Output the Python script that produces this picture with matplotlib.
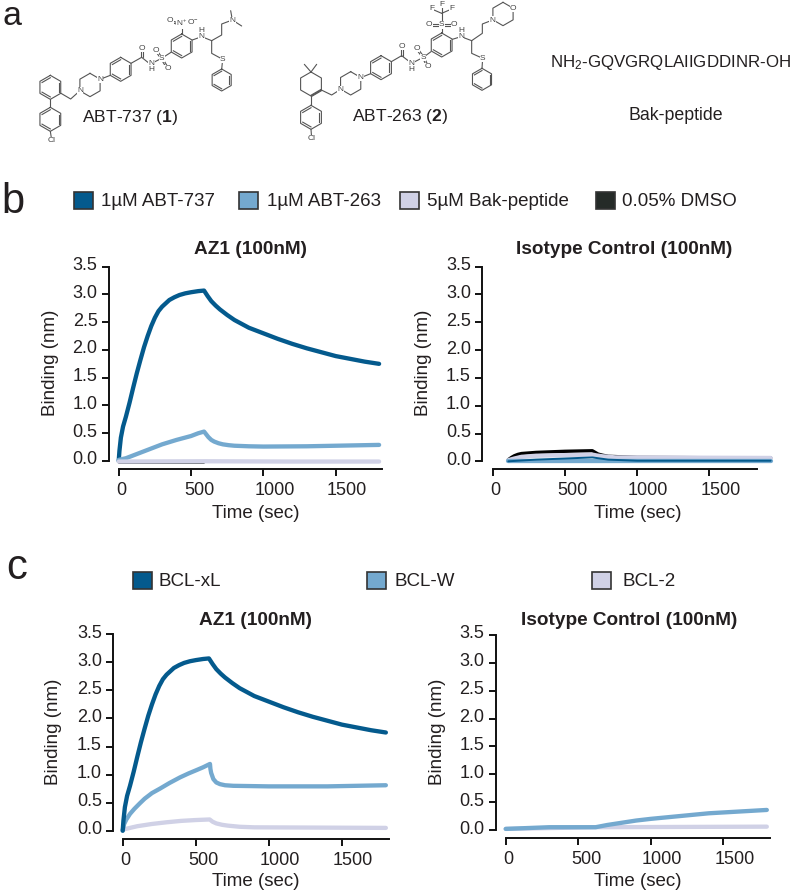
import numpy as np
import matplotlib
matplotlib.use("Agg")
import matplotlib.pyplot as plt
from matplotlib.patches import Patch
from matplotlib.transforms import ScaledTranslation

plt.rcParams['font.family'] = ['Liberation Sans', 'DejaVu Sans']
plt.rcParams['mathtext.fontset'] = 'custom'
plt.rcParams['mathtext.rm'] = 'Liberation Sans'
plt.rcParams['mathtext.bf'] = 'Liberation Sans:bold'
plt.rcParams['mathtext.default'] = 'regular'

DARK, MID, LAV, BLACK = '#045a8d', '#74a9cf', '#d0d1e6', '#252b28'
TXT = '#231f20'
W, H = 800, 893

# ---- data ----
dark_t = [0, 5, 15, 30, 50, 75, 100, 125, 150, 175, 200, 225, 250, 275, 300, 325, 350, 385, 420, 460, 500, 550, 590,
          600, 615, 640, 670, 700, 750, 800, 850, 900, 950, 1000, 1100, 1200, 1300, 1400, 1500, 1600, 1700, 1800]
dark_y = [0, .18, .42, .62, .8, 1.05, 1.32, 1.58, 1.82, 2.05, 2.25, 2.43, 2.58, 2.7, 2.78, 2.84, 2.9, 2.95, 2.99,
          3.02, 3.04, 3.06, 3.07, 3.03, 2.97, 2.88, 2.8, 2.73, 2.63, 2.54, 2.47, 2.4, 2.35, 2.3, 2.2, 2.11, 2.03,
          1.96, 1.89, 1.84, 1.79, 1.75]
abt263_t = [0, 50, 100, 200, 300, 400, 500, 550, 590, 605, 620, 640, 660, 690, 720, 760, 800, 900, 1000, 1300, 1800]
abt263_y = [.02, .05, .1, .2, .3, .38, .45, .5, .53, .48, .43, .38, .35, .32, .3, .285, .275, .265, .26, .265, .29]
bak_t = [0, 600, 1200, 1800]
bak_y = [-.01, -.005, -.01, -.01]
dmso_t = [0, 300, 590]
dmso_y = [-.03, -.03, -.03]

iso_dmso_t = [108, 130, 150, 175, 200, 300, 500, 690, 710, 730, 760, 800, 1000, 1925]
iso_dmso_y = [.03, .07, .1, .125, .14, .16, .18, .19, .16, .13, .11, .09, .07, .06]
iso_bak_t = [108, 150, 200, 300, 500, 690, 720, 760, 850, 1925]
iso_bak_y = [.02, .05, .08, .1, .11, .12, .105, .09, .07, .06]
iso_263_t = [108, 500, 1000, 1925]
iso_263_y = [0, .0, .0, .0]
iso_737_t = [108, 300, 500, 690, 800, 1000, 1925]
iso_737_y = [0, .03, .05, .07, .03, .01, .01]

bclw_t = [0, 10, 25, 50, 80, 118, 150, 200, 255, 320, 392, 450, 505, 550, 597, 600, 605, 620, 640, 665, 700, 756,
          1000, 1400, 1800]
bclw_y = [0, .12, .2, .3, .39, .49, .57, .67, .75, .85, .95, 1.02, 1.08, 1.13, 1.19, 1.1, 1.03, .92, .86, .83, .81,
          .8, .79, .79, .81]
bcl2_t = [0, 50, 100, 200, 300, 400, 500, 595, 615, 640, 680, 720, 800, 900, 1800]
bcl2_y = [.02, .05, .08, .12, .15, .175, .19, .2, .16, .13, .105, .09, .07, .06, .05]
isow_t = [0, 300, 620, 700, 800, 900, 1000, 1100, 1200, 1300, 1400, 1500, 1600, 1700, 1800]
isow_y = [.02, .05, .05, .09, .13, .17, .2, .225, .25, .275, .3, .315, .33, .345, .36]
iso2_t = [0, 620, 1800]
iso2_y = [.02, .05, .06]

xticks = [0, 500, 1000, 1500]
xtick_shift = [3, 8, 11, 11]
yticks = [0, .5, 1, 1.5, 2, 2.5, 3, 3.5]
ytick_labels = ['0.0', '0.5', '1.0', '1.5', '2.0', '2.5', '3.0', '3.5']

fig = plt.figure(figsize=(W / 100, H / 100), dpi=100)


def panel(x0, x1500, xend, ytop, y0, spine_x, axis_y, title, title_xy, xlabel_xy, ylabel_xy):
    ax = fig.add_axes([x0 / W, 1 - y0 / H, (xend - x0) / W, (y0 - ytop) / H])
    ax.set_xlim(0, 1500 * (xend - x0) / (x1500 - x0))
    ax.set_ylim(0, 3.5)
    ax.patch.set_alpha(0)
    for s in ('top', 'right'):
        ax.spines[s].set_visible(False)
    ax.spines['left'].set_position(('outward', (x0 - spine_x) * .72))
    ax.spines['bottom'].set_position(('outward', (axis_y - y0) * .72))
    for s in ('left', 'bottom'):
        ax.spines[s].set_linewidth(1.4)
        ax.spines[s].set_color('#111111')
    ax.set_xticks(xticks)
    ax.set_yticks(yticks)
    ax.set_yticklabels(ytick_labels)
    ax.tick_params(axis='both', direction='out', length=4.7, width=1.4, color='#111111',
                   labelsize=13, labelcolor=TXT)
    ax.tick_params(axis='x', pad=4.5)
    ax.tick_params(axis='y', pad=3.5)
    for lab, dx in zip(ax.get_xticklabels(), xtick_shift):
        lab.set_transform(lab.get_transform() + ScaledTranslation(dx / 100, 0, fig.dpi_scale_trans))
    for lab in ax.get_yticklabels():
        lab.set_transform(lab.get_transform() + ScaledTranslation(0, 3 / 100, fig.dpi_scale_trans))
    fx = lambda p: (p - x0) / (xend - x0)
    fy = lambda p: (y0 - p) / (y0 - ytop)
    ax.set_title(title, fontsize=13.7, fontweight='bold', color=TXT, x=fx(title_xy[0]), y=fy(title_xy[1]), va='center', pad=0)
    ax.set_xlabel('Time (sec)', fontsize=13.5, color=TXT, va='center', ha='center')
    ax.xaxis.set_label_coords(fx(xlabel_xy[0]), fy(xlabel_xy[1]))
    ax.set_ylabel('Binding (nm)', fontsize=13.5, color=TXT, va='center', ha='center')
    ax.yaxis.set_label_coords(fx(ylabel_xy[0]), fy(ylabel_xy[1]))
    return ax


def curve(ax, t, y, color, lw=3.1, z=3):
    ax.plot(t, y, color=color, lw=lw, clip_on=False, solid_capstyle='round', solid_joinstyle='round', zorder=z)


# panel b
a1 = panel(118.7, 335.7, 382, 266.7, 461, 109, 469.3, 'AZ1 (100nM)', (250, 250), (256, 513), (50.7, 363))
curve(a1, dark_t, dark_y, DARK)
curve(a1, abt263_t, abt263_y, MID)
curve(a1, dmso_t, dmso_y, BLACK, lw=1.2, z=3.5)
curve(a1, bak_t, bak_y, LAV, z=4)

a2 = panel(492.7, 709.3, 756.7, 266.7, 461.3, 482.3, 469.3, 'Isotype Control (100nM)', (624, 250), (637.7, 513), (424, 363))
curve(a2, iso_dmso_t, iso_dmso_y, 'black', lw=2.4)
curve(a2, iso_bak_t, iso_bak_y, LAV, z=4)
curve(a2, iso_263_t, iso_263_y, MID, z=5)
curve(a2, iso_737_t, iso_737_y, DARK, lw=1.4, z=6)

# panel c
a3 = panel(122.7, 342, 389.3, 634.3, 830.7, 113.3, 839.3, 'AZ1 (100nM)', (255, 620.7), (256, 882), (54, 732))
curve(a3, dark_t, dark_y, DARK, z=5)
curve(a3, bclw_t, bclw_y, MID, z=4)
curve(a3, bcl2_t, bcl2_y, LAV, z=3)

a4 = panel(505.7, 723.3, 770, 635, 830, 495.7, 838.3, 'Isotype Control (100nM)', (628.7, 620.7), (637.7, 881.7), (437.3, 732))
curve(a4, iso2_t, iso2_y, LAV, z=3)
curve(a4, isow_t, isow_y, MID, z=4)


# legends
def swatch(x, yc, color, label, text_x):
    fig.legend(handles=[Patch(facecolor=color, edgecolor='#333333', linewidth=1.2)], labels=[label],
               loc='center left', bbox_to_anchor=(x / W, 1 - yc / H), frameon=False, borderpad=0, borderaxespad=0,
               handlelength=19 * .72 / 13.5, handleheight=19 * .72 / 13.5, handletextpad=(text_x - x - 19) * .72 / 13.5,
               fontsize=13.5, labelcolor=TXT)


swatch(74, 201, DARK, '1µM ABT-737', 101)
swatch(239, 201, MID, '1µM ABT-263', 267)
swatch(400, 201, LAV, '5µM Bak-peptide', 427)
swatch(596, 201, BLACK, '0.05% DMSO', 622)
swatch(133, 581, DARK, 'BCL-xL', 159)
swatch(367, 581, MID, 'BCL-W', 394)
swatch(592, 581, LAV, 'BCL-2', 622)

# panel a: drawn structures (coordinates in 3x crop units)
c = fig.add_axes([0, 0, 1, 1], zorder=-1)
c.set_xlim(0, W * 3)
c.set_ylim(H * 3, 0)
c.axis('off')
BOND = '#555555'


def seg(*pts):
    xs, ys = zip(*pts)
    c.plot(xs, ys, color=BOND, lw=.8, solid_capstyle='round')


def ring(cx, cy, r=36, aromatic=True, first=0):
    ang = np.radians(90 + 60 * np.arange(7))
    xs, ys = cx + r * np.cos(ang), cy - r * np.sin(ang)
    c.plot(xs, ys, color=BOND, lw=.8)
    if aromatic:
        for i in range(first, 6, 2):
            a = np.array([xs[i], ys[i]])
            b = np.array([xs[i + 1], ys[i + 1]])
            m = np.array([cx, cy])
            a2_, b2_ = a + (m - a) * .2, b + (m - b) * .2
            c.plot([a2_[0], b2_[0]], [a2_[1], b2_[1]], color=BOND, lw=.8)


def atom(x, y, s, fs=6):
    c.text(x, y, s, fontsize=fs, color='#444444', ha='center', va='center', linespacing=.9,
           bbox=dict(facecolor='white', edgecolor='none', pad=.2), zorder=5)


def dbl(p, q, off=5):
    p, q = np.array(p, float), np.array(q, float)
    n = np.array([-(q - p)[1], (q - p)[0]])
    n = n / np.linalg.norm(n) * off / 2
    seg(p + n, q + n)
    seg(p - n, q - n)


# ABT-737
ring(151, 262); ring(151, 358)
seg((151, 298), (151, 322)); seg((151, 394), (155, 420)); atom(155, 421, 'Cl')
seg((183, 280), (212, 297), (240, 272))
ring(270, 255, 35, aromatic=False); atom(240, 272, 'N'); atom(300, 238, 'N')
seg((300, 238), (331, 226)); ring(362, 208)
seg((393, 190), (425, 172)); dbl((425, 172), (425, 145)); atom(425, 145, 'O')
seg((425, 172), (455, 196)); atom(455, 200, 'N\nH')
seg((455, 190), (485, 175)); dbl((485, 175), (467, 150)); dbl((485, 175), (503, 205))
atom(467, 150, 'O'); atom(503, 205, 'O'); atom(485, 175, 'S')
seg((485, 175), (513, 157)); ring(545, 138)
seg((545, 102), (545, 75)); dbl((545, 75), (510, 63)); seg((545, 75), (580, 63))
atom(510, 63, 'O'); atom(580, 63, 'O$^{-}$'); atom(545, 70, 'N$^{+}$')
seg((577, 120), (605, 110), (635, 122)); atom(605, 101, 'H\nN')
seg((635, 122), (665, 105), (665, 72), (697, 60)); seg((697, 60), (692, 32)); seg((697, 60), (725, 78))
atom(697, 62, 'N')
seg((635, 122), (635, 160), (668, 178), (665, 208)); atom(668, 178, 'S')
ring(665, 240, 33)

# ABT-263
ring(933, 352)
seg((933, 316), (933, 288)); seg((933, 388), (935, 415)); atom(935, 416, 'Cl')
ring(933, 252, 36, aromatic=False)
dbl((933, 288), (964, 270), 4)
seg((933, 216), (913, 193)); seg((933, 216), (950, 193))
seg((964, 270), (995, 285), (1022, 268))
ring(1052, 250, 35, aromatic=False); atom(1022, 268, 'N'); atom(1082, 233, 'N')
seg((1082, 233), (1112, 221)); ring(1143, 203)
seg((1174, 185), (1205, 167)); dbl((1205, 167), (1205, 140)); atom(1205, 140, 'O')
seg((1205, 167), (1235, 190)); atom(1235, 199, 'N\nH')
seg((1235, 190), (1270, 172)); dbl((1270, 172), (1250, 145)); dbl((1270, 172), (1283, 200))
atom(1250, 145, 'O'); atom(1283, 200, 'O'); atom(1270, 172, 'S')
seg((1270, 172), (1293, 155)); ring(1325, 135)
seg((1325, 98), (1325, 40)); dbl((1325, 75), (1288, 75)); dbl((1325, 75), (1362, 75))
atom(1288, 75, 'O'); atom(1362, 75, 'O'); atom(1325, 75, 'S')
seg((1325, 40), (1325, 14)); seg((1325, 40), (1295, 27)); seg((1325, 40), (1355, 27))
atom(1325, 14, 'F'); atom(1295, 27, 'F'); atom(1355, 27, 'F')
seg((1357, 118), (1383, 110), (1415, 122)); atom(1383, 101, 'H\nN')
seg((1415, 122), (1447, 100), (1447, 72), (1478, 60))
ring(1509, 42, 35, aromatic=False); atom(1478, 60, 'N'); atom(1540, 25, 'O')
seg((1415, 122), (1415, 160), (1448, 175), (1446, 205)); atom(1448, 175, 'S')
ring(1446, 238, 33)

c.text(392, 352, r'ABT-737 ($\mathbf{1}$)', fontsize=12.6, color=TXT, ha='center', va='center')
c.text(1200, 348, r'ABT-263 ($\mathbf{2}$)', fontsize=12.6, color=TXT, ha='center', va='center')
c.text(1650, 188, r'NH$_2$-GQVGRQLAIIGDDINR-OH', fontsize=12.2, color=TXT, ha='left', va='center')
c.text(2026, 345, 'Bak-peptide', fontsize=12.8, color=TXT, ha='center', va='center')

# panel letters
c.text(6, 75, 'a', fontsize=24.5, color=TXT, ha='left', va='baseline')
c.text(3, 640, 'b', fontsize=30, color=TXT, ha='left', va='baseline')
c.text(20, 1737, 'c', fontsize=30, color=TXT, ha='left', va='baseline')

fig.savefig('out.png', dpi=100)
